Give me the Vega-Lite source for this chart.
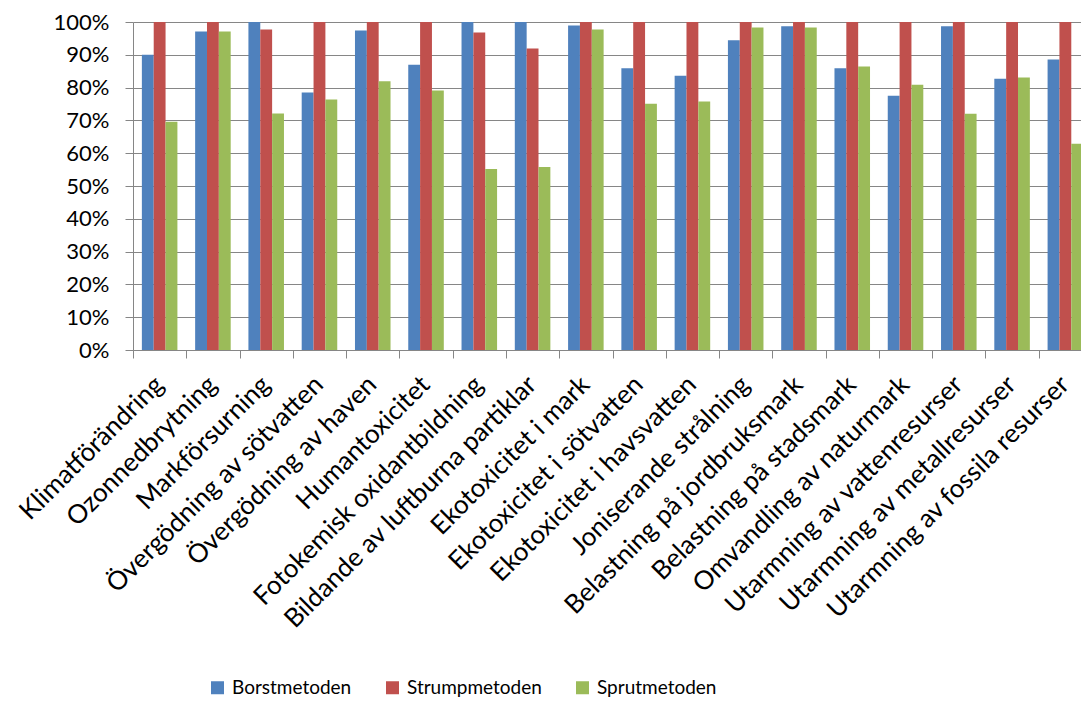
{
  "$schema": "https://vega.github.io/schema/vega-lite/v6.json",
  "width": 948,
  "height": 328,
  "autosize": {"type": "none"},
  "padding": {"left": 133, "top": 22, "right": 0, "bottom": 352},
  "background": "white",
  "config": {
    "font": "Lato",
    "view": {"stroke": null}
  },
  "data": {
    "values": [
      {"kategori": "Klimatförändring", "Borstmetoden": 0.900, "Strumpmetoden": 1.0, "Sprutmetoden": 0.696},
      {"kategori": "Ozonnedbrytning", "Borstmetoden": 0.971, "Strumpmetoden": 1.0, "Sprutmetoden": 0.971},
      {"kategori": "Markförsurning", "Borstmetoden": 1.0, "Strumpmetoden": 0.977, "Sprutmetoden": 0.721},
      {"kategori": "Övergödning av sötvatten", "Borstmetoden": 0.785, "Strumpmetoden": 1.0, "Sprutmetoden": 0.764},
      {"kategori": "Övergödning av haven", "Borstmetoden": 0.974, "Strumpmetoden": 1.0, "Sprutmetoden": 0.819},
      {"kategori": "Humantoxicitet", "Borstmetoden": 0.870, "Strumpmetoden": 1.0, "Sprutmetoden": 0.791},
      {"kategori": "Fotokemisk oxidantbildning", "Borstmetoden": 1.0, "Strumpmetoden": 0.968, "Sprutmetoden": 0.552},
      {"kategori": "Bildande av luftburna partiklar", "Borstmetoden": 1.0, "Strumpmetoden": 0.919, "Sprutmetoden": 0.558},
      {"kategori": "Ekotoxicitet i mark", "Borstmetoden": 0.989, "Strumpmetoden": 1.0, "Sprutmetoden": 0.977},
      {"kategori": "Ekotoxicitet i sötvatten", "Borstmetoden": 0.859, "Strumpmetoden": 1.0, "Sprutmetoden": 0.751},
      {"kategori": "Ekotoxicitet i havsvatten", "Borstmetoden": 0.836, "Strumpmetoden": 1.0, "Sprutmetoden": 0.758},
      {"kategori": "Joniserande strålning", "Borstmetoden": 0.944, "Strumpmetoden": 1.0, "Sprutmetoden": 0.983},
      {"kategori": "Belastning på jordbruksmark", "Borstmetoden": 0.987, "Strumpmetoden": 1.0, "Sprutmetoden": 0.983},
      {"kategori": "Belastning på stadsmark", "Borstmetoden": 0.859, "Strumpmetoden": 1.0, "Sprutmetoden": 0.864},
      {"kategori": "Omvandling av naturmark", "Borstmetoden": 0.775, "Strumpmetoden": 1.0, "Sprutmetoden": 0.809},
      {"kategori": "Utarmning av vattenresurser", "Borstmetoden": 0.987, "Strumpmetoden": 1.0, "Sprutmetoden": 0.720},
      {"kategori": "Utarmning av metallresurser", "Borstmetoden": 0.827, "Strumpmetoden": 1.0, "Sprutmetoden": 0.831},
      {"kategori": "Utarmning av fossila resurser", "Borstmetoden": 0.886, "Strumpmetoden": 1.0, "Sprutmetoden": 0.629}
    ]
  },
  "transform": [
    {"fold": ["Borstmetoden", "Strumpmetoden", "Sprutmetoden"], "as": ["metod", "andel"]}
  ],
  "mark": {"type": "bar"},
  "encoding": {
    "x": {
      "field": "kategori",
      "type": "nominal",
      "sort": null,
      "title": null,
      "scale": {"range": [0, 959], "paddingInner": 0, "paddingOuter": 0},
      "axis": {
        "labelAngle": -45,
        "labelFontSize": 26,
        "labelColor": "#000000",
        "labelPadding": 13,
        "labelOffset": -10,
        "tickBand": "extent",
        "tickSize": 8,
        "tickColor": "#868686",
        "domainColor": "#868686",
        "labelLimit": 0
      }
    },
    "xOffset": {
      "field": "metod",
      "type": "nominal",
      "sort": ["Borstmetoden", "Strumpmetoden", "Sprutmetoden"],
      "scale": {"paddingInner": 0, "paddingOuter": 0.748}
    },
    "y": {
      "field": "andel",
      "type": "quantitative",
      "title": null,
      "scale": {"domain": [0, 1], "nice": false},
      "axis": {
        "values": [0, 0.1, 0.2, 0.3, 0.4, 0.5, 0.6, 0.7, 0.8, 0.9, 1.0],
        "format": ".0%",
        "labelFontSize": 22,
        "labelColor": "#000000",
        "labelPadding": 16,
        "tickSize": 8,
        "tickColor": "#868686",
        "domainColor": "#868686",
        "gridColor": "#868686",
        "gridWidth": 1.2
      }
    },
    "color": {
      "field": "metod",
      "type": "nominal",
      "sort": ["Borstmetoden", "Strumpmetoden", "Sprutmetoden"],
      "scale": {
        "domain": ["Borstmetoden", "Strumpmetoden", "Sprutmetoden"],
        "range": ["#4F81BD", "#C0504D", "#9BBB59"]
      },
      "legend": {
        "title": null,
        "orient": "none",
        "direction": "horizontal",
        "legendX": 75,
        "legendY": 656,
        "symbolType": "square",
        "symbolSize": 169,
        "symbolStrokeWidth": 0,
        "labelFontSize": 19,
        "labelColor": "#000000",
        "labelOffset": 5,
        "columnPadding": 31
      }
    }
  }
}
